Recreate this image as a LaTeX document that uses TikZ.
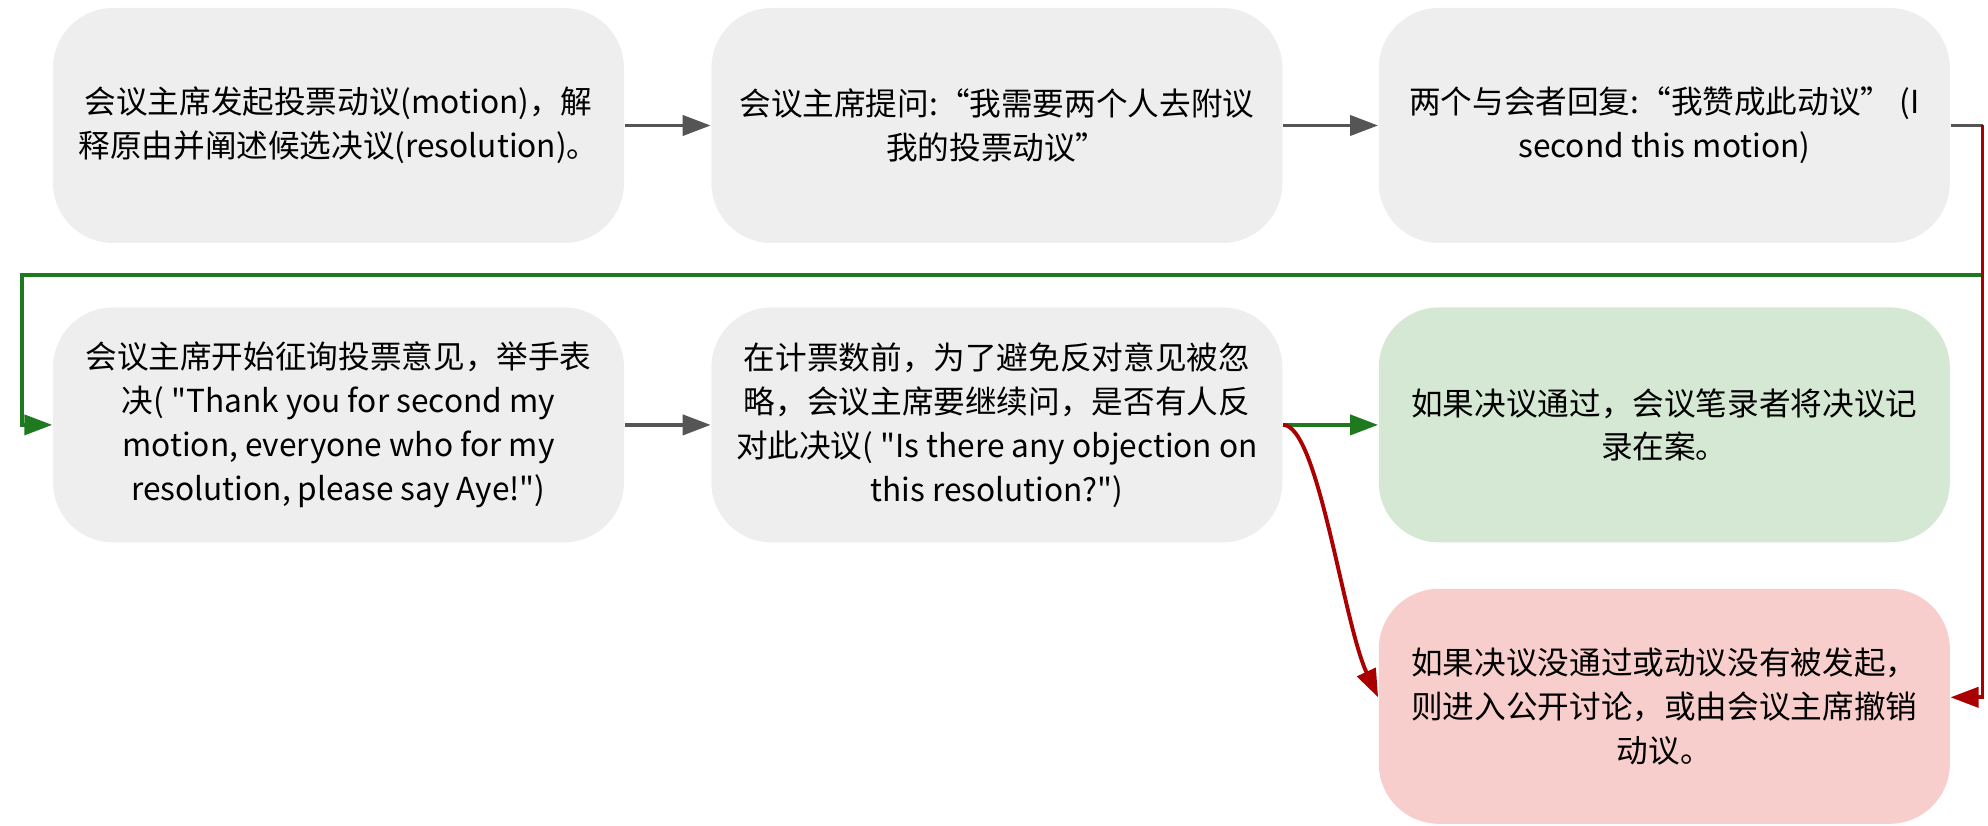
\documentclass[tikz,border=0pt]{standalone}
\usepackage{fontspec}
\setmainfont{Noto Sans CJK SC}[Ligatures=TeXOff]
\usepackage{tikz}
\usetikzlibrary{arrows.meta, positioning, calc}

\definecolor{boxgray}{HTML}{EEEEEE}
\definecolor{boxgreen}{HTML}{D5E8D4}
\definecolor{boxred}{HTML}{F8CECC}
\definecolor{linegray}{HTML}{555555}
\definecolor{linegreen}{HTML}{1F7A1F}
\definecolor{linered}{HTML}{AA0000}

\begin{document}
\begin{tikzpicture}[
    stepbox/.style={rectangle, rounded corners=0.6cm, minimum width=5.71cm, minimum height=2.35cm, fill=boxgray, align=center, inner sep=0pt, font=\fontsize{9pt}{12.5pt}\selectfont},
    passbox/.style={stepbox, fill=boxgreen},
    failbox/.style={stepbox, fill=boxred},
    arrow/.style={-{Triangle[length=0.28cm, width=0.2cm]}, line width=1.1pt, color=linegray},
    yesarrow/.style={arrow, color=linegreen},
    noarrow/.style={arrow, color=linered}
]

    \useasboundingbox (0,0) rectangle (19.88,8.25);

    % --- First row ---
    \node[stepbox] (motion) at (3.385,6.995) {会议主席发起投票动议(motion)，解\\释原由并阐述候选决议(resolution)。};
    \node[stepbox, right=0.86cm of motion] (ask) {会议主席提问:“我需要两个人去附议\\我的投票动议”};
    \node[stepbox, right=0.95cm of ask] (second) {两个与会者回复:“我赞成此动议” (I\\second this motion)};

    % --- Second row ---
    \node[stepbox, below=0.63cm of motion] (vote) {会议主席开始征询投票意见，举手表\\决( "Thank you for second my\\motion, everyone who for my\\resolution, please say Aye!")};
    \node[stepbox, right=0.86cm of vote] (object) {在计票数前，为了避免反对意见被忽\\略，会议主席要继续问，是否有人反\\对此决议( "Is there any objection on\\this resolution?")};
    \node[passbox, right=0.95cm of object] (pass) {如果决议通过，会议笔录者将决议记\\录在案。};

    % --- Outcome ---
    \node[failbox, below=0.45cm of pass] (fail) {如果决议没通过或动议没有被发起，\\则进入公开讨论，或由会议主席撤销\\动议。};

    % Turning points of the long connectors
    \coordinate (turn) at ($(second.east)+(0.32,0)$);
    \coordinate (gap) at ($(motion.south west)!0.5!(vote.north west)+(-0.30,0)$);

    % --- Connectors ---
    \draw[arrow] (motion) -- (ask);
    \draw[arrow] (ask) -- (second);
    \draw[line width=1.1pt, linegray] (second.east) -- (turn);
    \draw[yesarrow] (turn) |- (gap) |- (vote.west);
    \draw[noarrow] (turn) |- ([yshift=0.09cm]fail.east);
    \draw[arrow] (vote) -- (object);
    \draw[yesarrow] (object.east) -- (pass.west);
    \draw[noarrow] (object.east) .. controls +(0.35,0) and +(-0.35,0.75) .. ([yshift=0.09cm]fail.west);

\end{tikzpicture}
\end{document}
